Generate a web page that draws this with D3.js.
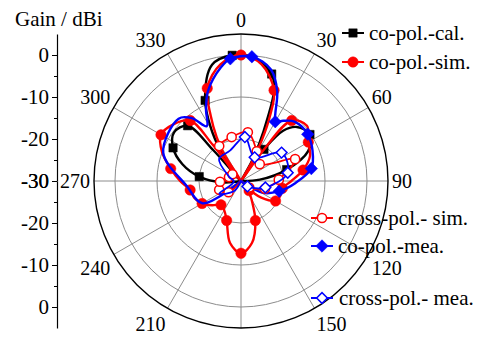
<!DOCTYPE html>
<html>
<head>
<meta charset="utf-8">
<script src="https://cdn.jsdelivr.net/npm/d3@7"></script>
<style>
  body { margin: 0; background: #fff; }
  svg text { font-family: "Liberation Serif", "Times New Roman", serif; font-size: 21px; fill: #000; }
  svg text.ang { font-size: 20px; }
</style>
</head>
<body>
<svg id="chart" width="480" height="337" font-family="Liberation Serif, Times New Roman, serif"></svg>
<script>
// angles: degrees clockwise from top, gains: dBi
const angleTicks = [0, 30, 60, 90, 120, 150, 180, 210, 240, 270, 300, 330];
const gridGains = [-20, -10, 0];
const gainTicks = [0, -10, -20, -30];
const minorGainTicks = [-5, -15, -25];

// co-pol.-cal. (black squares every 20 deg from -4)
const calAngle = [6, 16, 20, 23, 26, 29, 31, 34, 36, 40, 46, 56, 66, 76, 86, 96, 116, 136, 156, 176, 196, 216, 236, 256, 266, 276, 286, 296, 306, 316, 318, 320, 323, 326, 330, 336, 346, 356];
const calGain  = [-0.5, -3.5, -7, -14, -20, -25, -31, -25, -20.7, -14.4, -11.5, -10.2, -12.5, -18.8, -25.5, -31, -32, -32, -32, -32, -32, -32, -32, -31, -25.5, -20, -15.5, -12, -10.3, -11.7, -20, -31, -24, -21, -16, -9, -1.5, 0];

// co-pol.-sim. (red circles every 20 deg)
const simAngle = [0, 10, 20, 24, 27, 30, 33, 36, 40, 50, 60, 70, 80, 90, 100, 110, 120, 130, 140, 150, 160, 170, 180, 190, 200, 210, 220, 230, 240, 250, 260, 270, 280, 290, 300, 310, 320, 322, 325, 328, 331, 335, 340, 350];
const simGain  = [0, -1.8, -7, -13, -19, -25, -31, -21, -11.2, -9.5, -11.5, -12.5, -15, -18, -20, -20, -20.5, -24, -27, -25, -20, -15, -12.8, -15, -20, -22, -22.6, -21, -19.3, -18.2, -17.7, -15.5, -13, -10, -8, -9, -11.2, -19, -31, -22, -18, -13, -6.5, -1.8];

// co-pol.-mea. (blue diamonds every 25 deg from -170)
const meaAngle = [5, 15, 22, 27, 30, 35, 42, 55, 67, 80, 92, 105, 118, 130, 155, 180, 190, 215, 240, 265, 290, 315, 322, 328, 334, 340, 350, 355];
const meaGain  = [-0.3, -2.5, -7, -12, -13.7, -12.5, -11, -10.6, -11.5, -13, -17, -20.6, -24, -31, -32, -32, -32, -31, -19.4, -17, -10.3, -9, -11, -14.6, -11, -7.1, -2.5, -0.8];

// cross-pol.- sim. (red open circles every 20 deg from 8)
const xsimAngle = [8, 28, 48, 68, 88, 108, 128, 148, 168, 188, 208, 228, 248, 268, 288, 308, 328, 348];
const xsimGain  = [-18.3, -22, -24, -16.1, -21, -24, -27.5, -31, -32, -32, -31, -26, -24.4, -25, -27, -27.4, -20.2, -19.3];

// cross-pol.- mea. (blue open diamonds every 25 deg from -170)
const xmeaAngle = [5, 30, 55, 80, 105, 130, 155, 180, 190, 215, 240, 265, 290, 315, 340];
const xmeaGain  = [-19.5, -23.5, -18.2, -18.7, -24, -28, -31, -32, -32, -27, -24, -28.3, -27, -22.6, -22.3];

const svg = d3.select("#chart");
const cx = 241, cy = 181, R = 147;
const r = d3.scaleLinear().domain([-30, 5]).range([0, R]).clamp(true);

function pt(a, g) {
  const rad = a * Math.PI / 180, rr = r(g);
  return [cx + rr * Math.sin(rad), cy - rr * Math.cos(rad)];
}

// grid
const grid = svg.append("g");
grid.selectAll("circle.ring")
  .data(gridGains)
  .enter()
  .append("circle")
  .attr("cx", cx).attr("cy", cy)
  .attr("r", d => r(d))
  .attr("fill", "none")
  .attr("stroke", "#8c8c8c")
  .attr("stroke-width", 1);

grid.selectAll("line.spoke")
  .data(angleTicks)
  .enter()
  .append("line")
  .attr("x1", cx).attr("y1", cy)
  .attr("x2", d => pt(d, 5)[0])
  .attr("y2", d => pt(d, 5)[1])
  .attr("stroke", "#8c8c8c")
  .attr("stroke-width", 1);

grid.append("circle")
  .attr("cx", cx).attr("cy", cy)
  .attr("r", r(5))
  .attr("fill", "none")
  .attr("stroke", "#000")
  .attr("stroke-width", 1.4);

// angle labels sit just outside the ring, anchored away from it
grid.selectAll("text.ang")
  .data(angleTicks)
  .enter()
  .append("text")
  .attr("class", "ang")
  .attr("x", d => cx + 151 * Math.sin(d * Math.PI / 180))
  .attr("y", d => {
    const c = Math.cos(d * Math.PI / 180);
    return cy - 153 * c + (c > 0.01 ? -8 : c < -0.01 ? 10 : 0);
  })
  .attr("dy", "0.35em")
  .attr("text-anchor", d => {
    const s = Math.sin(d * Math.PI / 180);
    return s > 0.01 ? "start" : s < -0.01 ? "end" : "middle";
  })
  .text(d => d);

// left gain axis, mirrored about the centre
const yUp = d3.scaleLinear().domain([-30, 5]).range([cy, cy - R]);
const yDown = d3.scaleLinear().domain([-30, 5]).range([cy, cy + R]);
[yUp, yDown].forEach(sc => {
  const g = svg.append("g").attr("transform", "translate(57,0)");
  g.call(d3.axisLeft(sc).tickValues(gainTicks).tickSize(5).tickPadding(3).tickSizeOuter(0).tickFormat(d => String(d)));
  const m = svg.append("g").attr("transform", "translate(57,0)");
  m.call(d3.axisLeft(sc).tickValues(minorGainTicks).tickSize(3).tickSizeOuter(0).tickFormat(""));
  m.select(".domain").remove();
  g.attr("font-size", null).attr("font-family", null);
  m.attr("font-size", null).attr("font-family", null);
  g.select(".domain").attr("stroke-width", 1.2);
});

svg.append("text").attr("x", 15).attr("y", 26).text("Gain / dBi");

// series
const series = [
  { angle: calAngle, gain: calGain, color: "#000", shape: "square", open: false, start: -4, step: 20 },
  { angle: simAngle, gain: simGain, color: "#ff0000", shape: "circle", open: false, start: 0, step: 20 },
  { angle: meaAngle, gain: meaGain, color: "#0000ff", shape: "diamond", open: false, start: -170, step: 25 },
  { angle: xsimAngle, gain: xsimGain, color: "#ff0000", shape: "circle", open: true, start: 8, step: 20 },
  { angle: xmeaAngle, gain: xmeaGain, color: "#0000ff", shape: "diamond", open: true, start: -170, step: 25 }
];

const line = d3.line().curve(d3.curveCatmullRomClosed.alpha(0.5));

function symbolPath(shape, open) {
  if (shape === "square") return d3.symbol().type(d3.symbolSquare).size(70)();
  if (shape === "circle") return d3.symbol().type(d3.symbolCircle).size(open ? 66 : 85)();
  return d3.symbol().type(d3.symbolSquare).size(open ? 58 : 78)();
}

function drawMarker(g, s, x, y) {
  g.append("path")
    .attr("d", symbolPath(s.shape, s.open))
    .attr("transform", `translate(${x},${y})` + (s.shape === "diamond" ? " rotate(45)" : ""))
    .attr("fill", s.open ? "#fff" : s.color)
    .attr("stroke", s.color)
    .attr("stroke-width", s.open ? 1.5 : 0.5);
}

series.forEach(s => {
  const g = svg.append("g");
  const pts = s.angle.map((a, i) => pt(a, s.gain[i]));
  g.append("path")
    .attr("d", line(pts))
    .attr("fill", "none")
    .attr("stroke", s.color)
    .attr("stroke-width", s.open ? 1.8 : 2.4);
  s.angle.forEach((a, i) => {
    const k = (((a - s.start) % s.step) + s.step) % s.step;
    if (k === 0 && s.gain[i] >= -30) drawMarker(g, s, pts[i][0], pts[i][1]);
  });
});

// legend
const legend = [
  { s: series[0], label: "co-pol.-cal.", x1: 342, x2: 364, y: 33, tx: 369 },
  { s: series[1], label: "co-pol.-sim.", x1: 342, x2: 364, y: 62, tx: 369 },
  { s: series[3], label: "cross-pol.- sim.", x1: 311, x2: 333, y: 218, tx: 338 },
  { s: series[2], label: "co-pol.-mea.", x1: 311, x2: 333, y: 246, tx: 338 },
  { s: series[4], label: "cross-pol.- mea.", x1: 311, x2: 333, y: 298, tx: 339 }
];
legend.forEach(d => {
  const g = svg.append("g");
  g.append("line")
    .attr("x1", d.x1).attr("x2", d.x2).attr("y1", d.y).attr("y2", d.y)
    .attr("stroke", d.s.color).attr("stroke-width", 2);
  drawMarker(g, d.s, (d.x1 + d.x2) / 2, d.y);
  g.append("text").attr("x", d.tx).attr("y", d.y).attr("dy", "0.35em").text(d.label);
});
</script>
</body>
</html>
